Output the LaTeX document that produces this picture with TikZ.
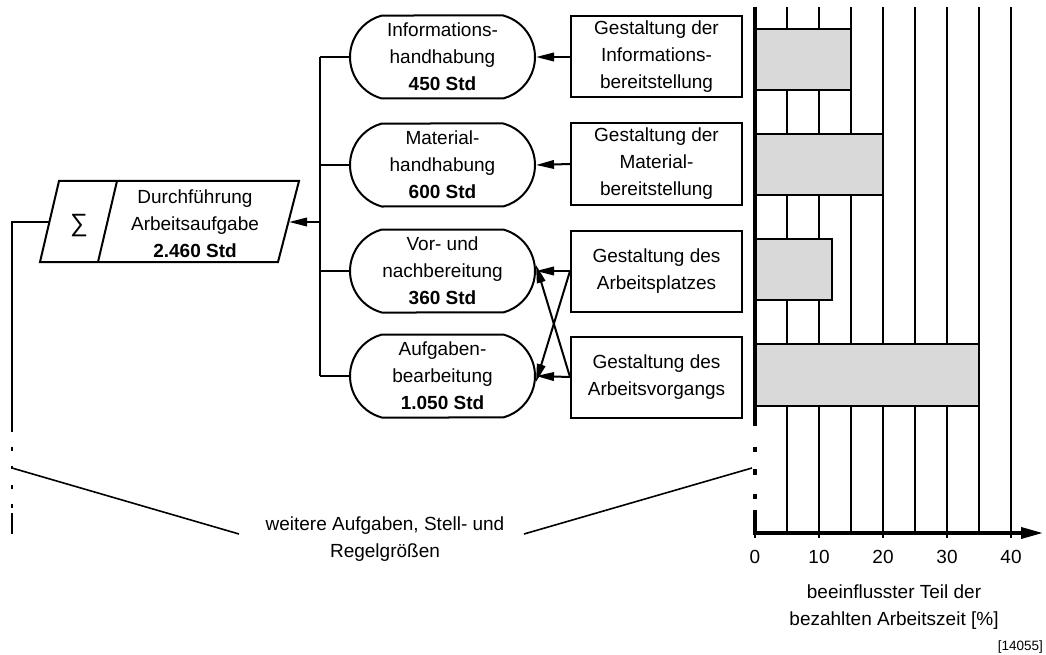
\documentclass[tikz,border=0pt]{standalone}
\usepackage{fontspec}
\setmainfont{Liberation Sans}
\usetikzlibrary{shapes.misc,arrows.meta}
\definecolor{barfill}{RGB}{217,217,217}
\begin{document}
\begin{tikzpicture}[x=1pt,y=-1pt,
  base/.style={font=\fontsize{19}{27}\selectfont, align=center, inner sep=0pt},
  activity/.style={base, draw, line width=2pt, shape=rounded rectangle,
    rounded rectangle arc length=150, minimum width=185pt, minimum height=83pt},
  design/.style={base, draw, line width=2pt, rectangle,
    minimum width=171pt, minimum height=81pt},
  link/.style={line width=2pt},
  flow/.style={line width=2pt, -{Triangle[length=18pt,width=8.5pt]}},
  gridline/.style={line width=1.4pt},
  axisline/.style={line width=3.5pt},
  bar/.style={draw, line width=2pt, fill=barfill},
  breakline/.style={line width=1.6pt},
]
\useasboundingbox (0,0) rectangle (1046,655);

% --- task parallelogram with sum field ---
\coordinate (pTL) at (59,181);
\coordinate (pTR) at (299,181);
\coordinate (pBR) at (278,262);
\coordinate (pBL) at (40,262);
\coordinate (dT) at (117,181);
\coordinate (dB) at (98,262);
\draw[link, line join=miter] (pTL) -- (pTR) -- (pBR) -- (pBL) -- cycle;
\draw[link] (dT) -- (dB);
\node[base] (sum) at (79,226) {\fontsize{25}{25}\selectfont ∑};
\node[base] (task) at (195,224) {Durchführung\\Arbeitsaufgabe\\\textbf{2.460 Std}};
\coordinate (taskin) at (289,222);
\coordinate (taskleft) at (49.5,222);

% --- activities ---
\node[activity] (a1) at (442.5,57)  {Informations-\\handhabung\\\textbf{450 Std}};
\node[activity] (a2) at (442.5,165) {Material-\\handhabung\\\textbf{600 Std}};
\node[activity] (a3) at (442.5,271) {Vor- und\\nachbereitung\\\textbf{360 Std}};
\node[activity] (a4) at (442.5,376) {Aufgaben-\\bearbeitung\\\textbf{1.050 Std}};

% --- design measures ---
\node[design] (d1) at (656.5,57)  {Gestaltung der\\Informations-\\bereitstellung};
\node[design] (d2) at (656.5,164) {Gestaltung der\\Material-\\bereitstellung};
\node[design] (d3) at (656.5,271) {Gestaltung des\\Arbeitsplatzes};
\node[design] (d4) at (656.5,377) {Gestaltung des\\Arbeitsvorgangs};

% --- bus collecting the activities ---
\coordinate (busT) at (320,57);
\coordinate (busB) at (320,376);
\coordinate (busM) at (320,222);
\draw[link] (busT) -- (busB);
\foreach \i in {1,...,4} \draw[link] (a\i.west) -- (a\i.west -| busT);
\draw[flow] (busM) -- (taskin);

% --- influence arrows ---
\foreach \i in {1,...,4} \draw[flow] (d\i.west) -- (a\i.east);
\draw[flow] (d3.west) -- ([yshift=-6pt]a4.east);
\draw[flow] (d4.west) -- ([yshift=6pt]a3.east);

% --- left feedback line with break ---
\draw[link] (taskleft) -- (12,222) -- (12,432);
\draw[link] (12,447) -- (12,451);
\draw[link] (12,466) -- (12,469);
\draw[link] (12,485) -- (12,489);
\draw[link] (12,504) -- (12,508);
\draw[link] (12,513) -- (12,534);

% --- chart ---
\foreach \v in {5,10,...,40} \draw[gridline] ({755+6.4*\v},7) -- ({755+6.4*\v},533);
\draw[bar] (755,29)  rectangle ({755+6.4*15},90);
\draw[bar] (755,134) rectangle ({755+6.4*20},195);
\draw[bar] (755,239) rectangle ({755+6.4*12},300);
\draw[bar] (755,344) rectangle ({755+6.4*35},406);

\draw[axisline] (755,7) -- (755,426);
\draw[axisline] (755,447) -- (755,452);
\draw[axisline] (755,469) -- (755,475);
\draw[axisline] (755,494) -- (755,499);
\draw[axisline] (755,510) -- (755,535);
\draw[axisline, -{Triangle[length=22pt,width=11pt]}] (753.25,533) -- (1043,533);
\foreach \v in {0,10,...,40} {
  \draw[line width=2.5pt] ({755+6.4*\v},533) -- ++(0,5);
  \node[base] (t\v) at ({755+6.4*\v},557) {\v};
}
\node[base] (xlabel) at (894,607) {beeinflusster Teil der\\bezahlten Arbeitszeit [\%]};
\node[base, font=\fontsize{13.5}{16}\selectfont, anchor=east] (ref) at (1043,647) {[14055]};

% --- further quantities ---
\node[base] (more) at (385,539.5) {weitere Aufgaben, Stell- und\\Regelgrößen};
\draw[breakline] (12,468) -- (239,534);
\draw[breakline] (524,534) -- (752,468);
\end{tikzpicture}
\end{document}
